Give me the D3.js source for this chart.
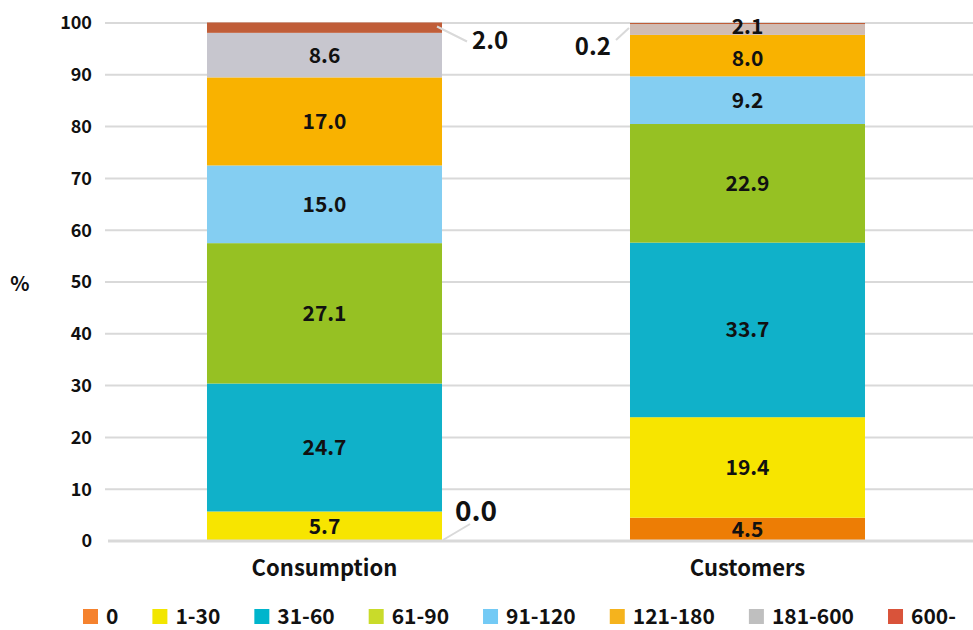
<!DOCTYPE html>
<html lang="en">
<head>
  <meta charset="UTF-8" />
  <title>Consumption vs Customers</title>
  <script src="https://d3js.org/d3.v7.min.js"></script>
  <style>
    body {
      margin: 0;
      background: #fff;
      font-family: "Noto Sans CJK JP", "Noto Sans", sans-serif;
      font-weight: 700;
    }
    svg text { font-weight: 700; fill: #111; }
    .grid line { stroke: #d9d9d9; stroke-width: 2; }
    .leader { stroke: #d9d9d9; stroke-width: 2; }
  </style>
</head>
<body>
<svg id="chart" width="973" height="630"></svg>
<script>
const categories = ["Consumption", "Customers"];
const groups = ["0", "1-30", "31-60", "61-90", "91-120", "121-180", "181-600", "600-"];
const consumption = [0.0, 5.7, 24.7, 27.1, 15.0, 17.0, 8.6, 2.0];
const customers = [4.5, 19.4, 33.7, 22.9, 9.2, 8.0, 2.1, 0.2];
const yTicks = [0, 10, 20, 30, 40, 50, 60, 70, 80, 90, 100];

const barColors = ["#ed7d05", "#f7e500", "#10b1c9", "#96c123", "#84cef2", "#f9b200", "#c7c6ce", "#c05d38"];
const customerGreyColor = "#d0bcb4";
const legendColors = ["#f5822e", "#f2e600", "#00b5cc", "#c9db2a", "#73caf5", "#f5b31d", "#bfbfbf", "#d9533a"];

const rows = categories.map((c, i) => {
  const vals = i === 0 ? consumption : customers;
  const r = { category: c };
  groups.forEach((g, j) => r[g] = vals[j]);
  return r;
});

const svg = d3.select("#chart");
const x = d3.scaleBand().domain(categories).range([113, 959]).paddingInner(0.4444).paddingOuter(0.2222);
const y = d3.scaleLinear().domain([0, 100]).range([541, 23]);

// gridlines
svg.append("g").attr("class", "grid")
  .selectAll("line").data(yTicks.filter(d => d > 0)).join("line")
  .attr("x1", 105).attr("x2", 973)
  .attr("y1", d => y(d)).attr("y2", d => y(d));

// y tick labels
svg.append("g").selectAll("text").data(yTicks).join("text")
  .attr("x", 92).attr("y", d => y(d)).attr("dy", "0.36em")
  .attr("text-anchor", "end").style("font-size", "18px")
  .text(d => d);

svg.append("text").attr("x", 20).attr("y", 284).attr("dy", "0.36em")
  .attr("text-anchor", "middle").style("font-size", "20px").text("%");

const series = d3.stack().keys(groups)(rows);

const barG = svg.append("g");
series.forEach((s, j) => {
  barG.selectAll(null).data(s).join("rect")
    .attr("x", d => x(d.data.category))
    .attr("width", x.bandwidth())
    .attr("y", d => y(d[1]))
    .attr("height", d => y(d[0]) - y(d[1]))
    .attr("fill", d => (d.data.category === "Customers" && j === 6) ? customerGreyColor : barColors[j]);
});

// zero line
svg.append("line").attr("x1", 108).attr("x2", 973)
  .attr("y1", y(0)).attr("y2", y(0))
  .attr("stroke", "#d9d9d9").attr("stroke-width", 3);

// labels: outside placements for small segments
const outside = {
  "Consumption|0": { side: "right", lx: [1, 28], ly: [-1, -17], tx: 13, ty: -20, size: 28 },
  "Consumption|600-": { side: "right", lx: [-5, 25], ly: [4, 19], tx: 30, ty: 27, size: 24 },
  "Customers|600-": { side: "left", lx: [-1, -14], ly: [5, 17], tx: -19, ty: 32, size: 24 }
};
// nudges (px) for crowded inside labels
const nudge = { "Customers|181-600": -3, "Customers|121-180": 3 };

const labelG = svg.append("g");
series.forEach((s, j) => {
  s.forEach(d => {
    const cat = d.data.category;
    const v = d.data[groups[j]];
    const key = cat + "|" + groups[j];
    const o = outside[key];
    if (o) {
      const bx = o.side === "right" ? x(cat) + x.bandwidth() : x(cat);
      const by = y(d[1]);
      labelG.append("line").attr("class", "leader")
        .attr("x1", bx + o.lx[0]).attr("y1", by + o.ly[0])
        .attr("x2", bx + o.lx[1]).attr("y2", by + o.ly[1]);
      labelG.append("text")
        .attr("x", bx + o.tx).attr("y", by + o.ty)
        .attr("text-anchor", o.side === "right" ? "start" : "end")
        .style("font-size", o.size + "px")
        .text(v.toFixed(1));
    } else {
      labelG.append("text")
        .attr("x", x(cat) + x.bandwidth() / 2)
        .attr("y", (y(d[0]) + y(d[1])) / 2 + (nudge[key] || 0)).attr("dy", "0.36em")
        .attr("text-anchor", "middle").style("font-size", "21px")
        .text(v.toFixed(1));
    }
  });
});

// category labels
svg.append("g").selectAll("text").data(categories).join("text")
  .attr("x", d => x(d) + x.bandwidth() / 2).attr("y", 568).attr("dy", "0.36em")
  .attr("text-anchor", "middle").style("font-size", "22px")
  .text(d => d);

// legend
const legend = svg.append("g");
let lx = 83;
groups.forEach((g, i) => {
  legend.append("rect").attr("x", lx).attr("y", 609).attr("width", 15).attr("height", 15)
    .attr("fill", legendColors[i]);
  const t = legend.append("text").attr("x", lx + 23).attr("y", 616).attr("dy", "0.36em")
    .style("font-size", "21px").text(g);
  lx += 23 + t.node().getComputedTextLength() + 34;
});
</script>
</body>
</html>
